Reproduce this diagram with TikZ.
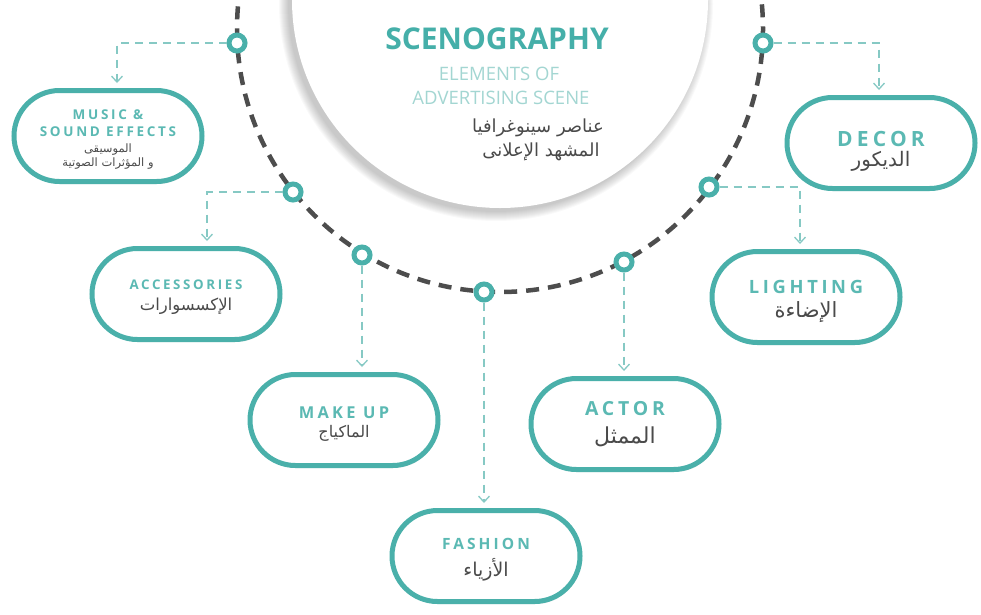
\documentclass[tikz,border=0pt]{standalone}
\usepackage{fontspec}
\setmainfont{Open Sans}
\newfontfamily\spacedfont{Open Sans}[LetterSpace=20]
\newfontfamily\arabicfont[Script=Arabic]{DejaVu Sans}
\TeXXeTstate=1
\usetikzlibrary{shapes.misc,shadows,arrows.meta}

\definecolor{scenetitle}{HTML}{45AFA9}
\definecolor{sceneborder}{HTML}{4AB0AA}
\definecolor{scenelabel}{HTML}{5BB9B3}
\definecolor{scenesub}{HTML}{A3D6D2}
\definecolor{scenelink}{HTML}{86C9C4}
\definecolor{scenetrack}{HTML}{4D4D4D}
\definecolor{scenetext}{HTML}{4A4A4A}

% one line of a box: spaced latin caption (with a strut on top), arabic caption
\newcommand\itemtitle[3][1.2em]{{\spacedfont\bfseries\fontsize{#2}{#2}\selectfont\color{scenelabel}\rule{0pt}{#1}#3}}
\newcommand\itemarabic[2]{{\arabicfont\fontsize{#1}{#1}\selectfont\color{scenetext}#2}}

\tikzset{
  item/.style={rounded rectangle, draw=sceneborder, line width=5pt, fill=white,
    minimum width=188pt, minimum height=91pt, inner sep=0pt, align=center,
    drop shadow={shadow xshift=1pt, shadow yshift=-2.5pt, opacity=.18}},
  ring/.style={circle, draw=sceneborder, line width=5pt, fill=white,
    minimum size=16pt, inner sep=0pt},
  link/.style={draw=scenelink, line width=1.3pt, dash pattern=on 8pt off 6pt,
    -{Straight Barb[length=6pt,width=11pt]}, shorten >=5pt},
  track/.style={draw=scenetrack, line width=4.5pt, dash pattern=on 13pt off 9pt},
}

\begin{document}
\begin{tikzpicture}[x=1pt,y=-1pt]
\useasboundingbox (0,0) rectangle (981,614);

\begin{scope}
  \clip (0,0) rectangle (981,614);
  % soft shadow of the stage
  \foreach \r in {1,...,10}
    \fill[black,opacity=0.022] (496,4) circle (207+\r);
  \fill[white] (500,0) circle (208);
  % the dashed track
  \draw[track] (500,29) circle (263);
\end{scope}

% heading
\node[font=\bfseries\fontsize{30}{30}\selectfont, text=scenetitle] (heading) at (497,39) {SCENOGRAPHY};
\node[font=\fontsize{18.5}{18.5}\selectfont, text=scenesub] (sub1) at (499,74) {ELEMENTS OF};
\node[font=\fontsize{18.5}{18.5}\selectfont, text=scenesub] (sub2) at (501,98) {ADVERTISING SCENE};
\node[font=\arabicfont\fontsize{18}{18}\selectfont, text=scenetext] (arab1) at (538,128) {\beginR عناصر سينوغرافيا\endR};
\node[font=\arabicfont\fontsize{18}{18}\selectfont, text=scenetext] (arab2) at (541,152) {\beginR المشهد الإعلانى\endR};

% rings on the track
\node[ring] (m1) at (237,43) {};
\node[ring] (m2) at (293,192) {};
\node[ring] (m3) at (362,255) {};
\node[ring] (m4) at (484,292) {};
\node[ring] (m5) at (624,262) {};
\node[ring] (m6) at (709,187) {};
\node[ring] (m7) at (763,43) {};

% boxes
\node[item] (music) at (108,136) {\itemtitle{13.5}{MUSIC \&}\\\itemtitle{13.5}{SOUND EFFECTS}\\[4pt]\itemarabic{11.5}{\beginR الموسيقى\endR}\\[2pt]\itemarabic{11.5}{\beginR و المؤثرات الصوتية\endR}};
\node[item] (decor) at (881,143) {\itemtitle[1.5em]{21}{DECOR}\\[3pt]\itemarabic{20}{\beginR الديكور\endR}};
\node[item] (props) at (186,294) {\itemtitle{13.3}{ACCESSORIES}\\[8pt]\itemarabic{16.5}{\beginR الإكسسوارات\endR}};
\node[item] (lighting) at (806,297) {\itemtitle{18.3}{LIGHTING}\\[7pt]\itemarabic{21}{\beginR الإضاءة\endR}};
\node[item] (makeup) at (344,420) {\itemtitle{16.4}{MAKE UP}\\[6pt]\itemarabic{16}{\beginR الماكياج\endR}};
\node[item] (actor) at (625,424) {\itemtitle[0pt]{19.4}{ACTOR}\\[10pt]\itemarabic{22}{\beginR الممثل\endR}};
\node[item] (fashion) at (486,556) {\itemtitle{15.5}{FASHION}\\[7pt]\itemarabic{19}{\beginR الأزياء\endR}};

% connectors
\draw[link] (m1.west) -| ([xshift=9pt]music.north);
\draw[link] (m2.west) -| ([xshift=21pt]props.north);
\draw[link] (m3.south) -- (m3 |- makeup.north);
\draw[link] (m4.south) -- (m4 |- fashion.north);
\draw[link] (m5.south) -- (m5 |- actor.north);
\draw[link] (m6.east) -| ([xshift=-6pt]lighting.north);
\draw[link] (m7.east) -| ([xshift=-2pt]decor.north);
\end{tikzpicture}
\end{document}
